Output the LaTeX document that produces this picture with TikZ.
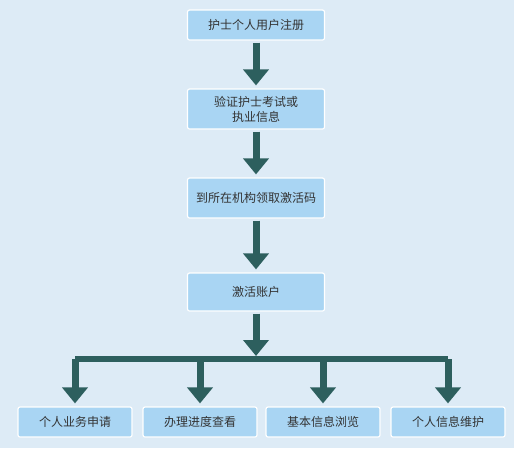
\documentclass[tikz,border=0pt]{standalone}
\usepackage{fontspec}
\setmainfont{Noto Sans CJK SC}
\usetikzlibrary{arrows.meta}
\definecolor{bgblue}{HTML}{DDEBF6}
\definecolor{boxblue}{HTML}{A9D5F3}
\definecolor{teal}{HTML}{2D5F5E}
\definecolor{ink}{HTML}{333333}
\tikzset{box/.style={draw=white, line width=1.2pt, fill=boxblue, rounded corners=2pt,
         text=ink, font=\fontsize{12}{15}\selectfont, align=center,
         minimum width=137, minimum height=30, inner sep=0pt},
         leaf/.style={box, minimum width=114},
         flow/.style={teal, line width=7pt, -{Triangle[length=16pt, width=25pt]},
         shorten >=3pt, shorten <=2pt},
         bar/.style={teal, line width=6pt, line cap=square}}

\begin{document}
\begin{tikzpicture}[x=1pt, y=-1pt]
    \useasboundingbox (0,0) rectangle (514,448);
    \fill[bgblue] (0,0) rectangle (514,448);

    \node[box] (reg) at (256,25) {护士个人用户注册};
    \node[box, minimum height=40] (verify) at (256,109) {验证护士考试或\\执业信息};
    \node[box, minimum height=40] (code) at (256,198) {到所在机构领取激活码};
    \node[box, minimum height=38] (activate) at (256,292) {激活账户};

    \node[leaf] (biz) at (75,422) {个人业务申请};
    \node[leaf] (progress) at (200,422) {办理进度查看};
    \node[leaf] (info) at (323,422) {基本信息浏览};
    \node[leaf] (maint) at (448,422) {个人信息维护};

    \draw[flow] (reg) -- (verify);
    \draw[flow] (verify) -- (code);
    \draw[flow] (code) -- (activate);

    \coordinate (split) at (256,359);
    \draw[flow] (activate) -- (split);
    \draw[bar] (biz |- split) -- (maint |- split);
    \foreach \n in {biz,progress,info,maint}
      \draw[flow, shorten <=0pt] (\n |- split) -- (\n);
  \end{tikzpicture}
\end{document}
